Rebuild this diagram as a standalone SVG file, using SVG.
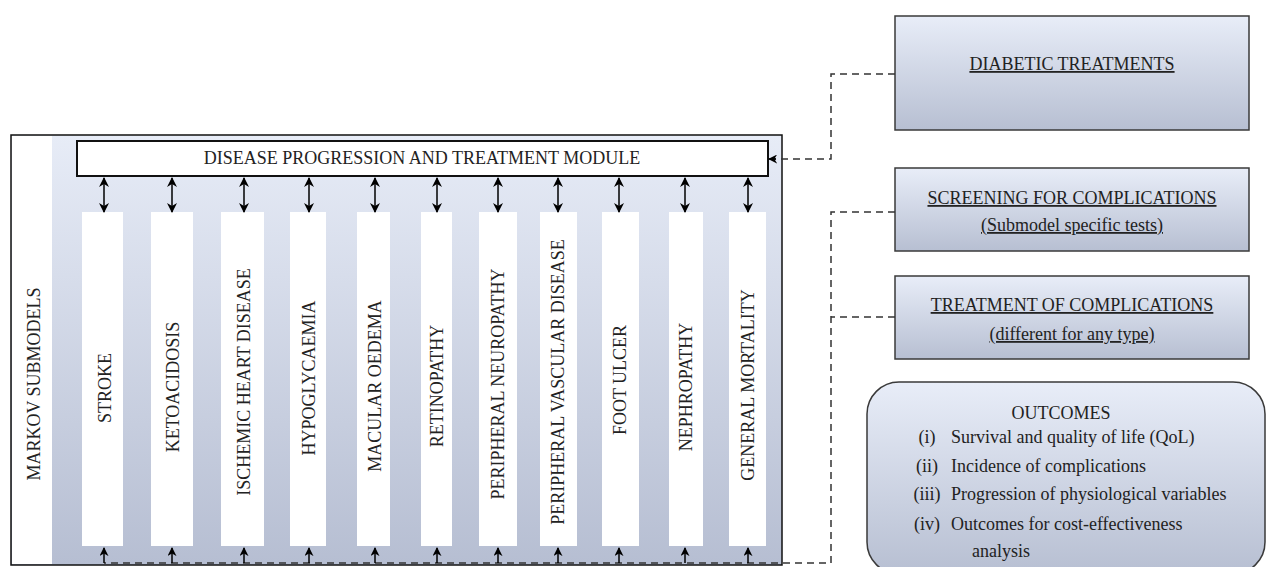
<svg xmlns="http://www.w3.org/2000/svg" width="1268" height="567" viewBox="0 0 1268 567">
<defs>
<linearGradient id="gMain" x1="0" y1="0" x2="0" y2="1">
<stop offset="0" stop-color="#e7ecf7"/>
<stop offset="1" stop-color="#b6bed2"/>
</linearGradient>
<linearGradient id="gBox" x1="0" y1="0" x2="0" y2="1">
<stop offset="0" stop-color="#e8edf8"/>
<stop offset="1" stop-color="#b7bfd2"/>
</linearGradient>
<marker id="ah" viewBox="0 0 10 10" refX="9" refY="5" markerWidth="10" markerHeight="10" markerUnits="userSpaceOnUse" orient="auto-start-reverse">
<path d="M0,0 L10,5 L0,10 L3,5 Z" fill="#000"/>
</marker>
<marker id="ahs" viewBox="0 0 10 10" refX="9" refY="5" markerWidth="9" markerHeight="9" markerUnits="userSpaceOnUse" orient="auto">
<path d="M0,0 L10,5 L0,10 L3,5 Z" fill="#000"/>
</marker>
</defs>
<style>
text{font-family:"Liberation Serif","Times New Roman",serif;font-size:18px;fill:#222;}
.v{text-anchor:middle;dominant-baseline:central;}
.c{text-anchor:middle;}
.u{text-decoration:underline;}
.col{fill:#ffffff;}
.box{fill:url(#gBox);stroke:#3a3a3a;stroke-width:1.5;}
.dash{fill:none;stroke:#333;stroke-width:1.5;stroke-dasharray:7 5;}
.dbl{fill:none;stroke:#000;stroke-width:1.5;marker-start:url(#ah);marker-end:url(#ah);}
.up{fill:none;stroke:#000;stroke-width:1.5;marker-end:url(#ahs);}
</style>

<g id="markov-submodels">
<rect x="11" y="135" width="771" height="430" fill="url(#gMain)" stroke="#111" stroke-width="1.5"/>
<rect x="12" y="136" width="40" height="428" fill="#ffffff"/>
<text class="v" transform="translate(34,384) rotate(-90)">MARKOV SUBMODELS</text>
</g>

<g id="module">
<rect x="77" y="141" width="691" height="35" fill="#ffffff" stroke="#111" stroke-width="2"/>
<text class="c" x="422" y="164">DISEASE PROGRESSION AND TREATMENT MODULE</text>
</g>

<g id="sub-stroke"><rect class="col" x="82" y="212" width="41" height="334"/><text class="v" transform="translate(105,388) rotate(-90)">STROKE</text></g>
<g id="sub-ketoacidosis"><rect class="col" x="151" y="212" width="42" height="334"/><text class="v" transform="translate(173,387) rotate(-90)">KETOACIDOSIS</text></g>
<g id="sub-ischemic"><rect class="col" x="221" y="212" width="43" height="334"/><text class="v" transform="translate(244,382) rotate(-90)">ISCHEMIC HEART DISEASE</text></g>
<g id="sub-hypoglycaemia"><rect class="col" x="290" y="212" width="36" height="334"/><text class="v" transform="translate(309,378) rotate(-90)">HYPOGLYCAEMIA</text></g>
<g id="sub-macular"><rect class="col" x="357" y="212" width="33" height="334"/><text class="v" transform="translate(375,386) rotate(-90)">MACULAR OEDEMA</text></g>
<g id="sub-retinopathy"><rect class="col" x="421" y="212" width="31" height="334"/><text class="v" transform="translate(437,386) rotate(-90)">RETINOPATHY</text></g>
<g id="sub-neuropathy"><rect class="col" x="479" y="212" width="38" height="334"/><text class="v" transform="translate(498,384) rotate(-90)">PERIPHERAL NEUROPATHY</text></g>
<g id="sub-vascular"><rect class="col" x="540" y="212" width="37" height="334"/><text class="v" transform="translate(558,382) rotate(-90)">PERIPHERAL VASCULAR DISEASE</text></g>
<g id="sub-foot"><rect class="col" x="602" y="212" width="37" height="334"/><text class="v" transform="translate(620,380) rotate(-90)">FOOT ULCER</text></g>
<g id="sub-nephropathy"><rect class="col" x="669" y="212" width="34" height="334"/><text class="v" transform="translate(686,387) rotate(-90)">NEPHROPATHY</text></g>
<g id="sub-mortality"><rect class="col" x="729" y="212" width="37" height="334"/><text class="v" transform="translate(748,385) rotate(-90)">GENERAL MORTALITY</text></g>

<g id="diabetic-treatments">
<rect class="box" x="895" y="16" width="354" height="114"/>
<text class="c u" x="1072" y="70">DIABETIC TREATMENTS</text>
</g>
<g id="screening">
<rect class="box" x="895" y="168" width="354" height="83"/>
<text class="c u" x="1072" y="204">SCREENING FOR COMPLICATIONS</text>
<text class="c u" x="1072" y="231">(Submodel specific tests)</text>
</g>
<g id="treatment-complications">
<rect class="box" x="895" y="276" width="354" height="83"/>
<text class="c u" x="1072" y="311">TREATMENT OF COMPLICATIONS</text>
<text class="c u" x="1072" y="340">(different for any type)</text>
</g>
<g id="outcomes">
<rect class="box" x="867" y="382" width="398" height="192" rx="32" ry="32"/>
<text class="c" x="1061" y="419">OUTCOMES</text>
<text class="c" x="927" y="443">(i)</text><text x="951" y="443">Survival and quality of life (QoL)</text>
<text class="c" x="927" y="472">(ii)</text><text x="951" y="472">Incidence of complications</text>
<text class="c" x="927" y="500">(iii)</text><text x="951" y="500">Progression of physiological variables</text>
<text class="c" x="927" y="530">(iv)</text><text x="951" y="530">Outcomes for cost-effectiveness</text>
<text x="972" y="557">analysis</text>
</g>

<g id="connectors">
<path class="dash" d="M895,74 H831 V159 H771"/>
<path d="M776,159 H769" fill="none" stroke="#000" stroke-width="1.5" marker-end="url(#ahs)"/>
<path class="dash" d="M895,212 H831 V563 H104"/>
<path class="dash" d="M895,317 H831"/>
<path class="dbl" d="M104,178 V212"/>
<path class="dbl" d="M172,178 V212"/>
<path class="dbl" d="M244,178 V212"/>
<path class="dbl" d="M309,178 V212"/>
<path class="dbl" d="M375,178 V212"/>
<path class="dbl" d="M437,178 V212"/>
<path class="dbl" d="M498,178 V212"/>
<path class="dbl" d="M558,178 V212"/>
<path class="dbl" d="M619,178 V212"/>
<path class="dbl" d="M685,178 V212"/>
<path class="dbl" d="M748,178 V212"/>
<path class="up" d="M104,563 V548"/>
<path class="up" d="M172,563 V548"/>
<path class="up" d="M244,563 V548"/>
<path class="up" d="M309,563 V548"/>
<path class="up" d="M375,563 V548"/>
<path class="up" d="M437,563 V548"/>
<path class="up" d="M498,563 V548"/>
<path class="up" d="M558,563 V548"/>
<path class="up" d="M619,563 V548"/>
<path class="up" d="M685,563 V548"/>
<path class="up" d="M748,563 V548"/>
</g>
</svg>
